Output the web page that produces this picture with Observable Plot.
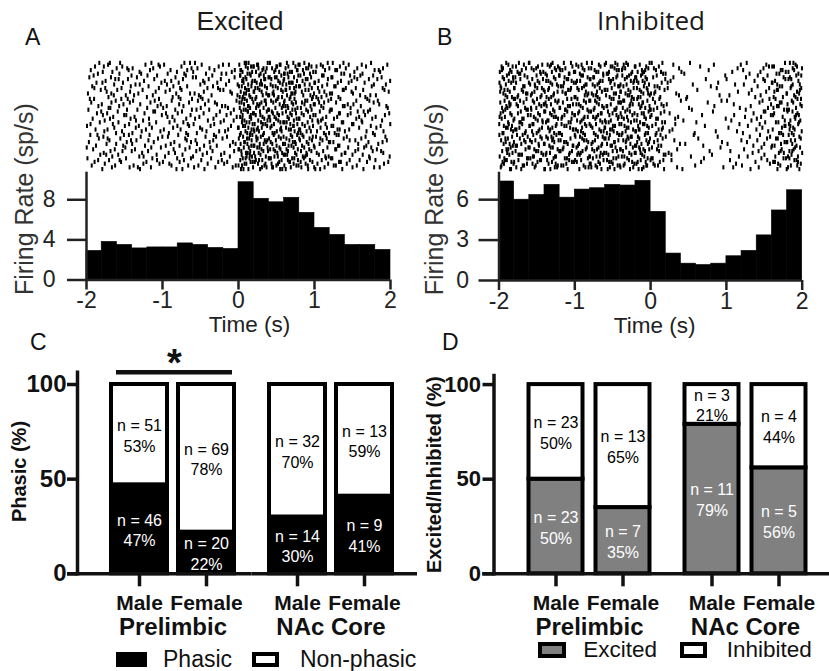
<!DOCTYPE html>
<html><head><meta charset="utf-8">
<script src="https://cdn.jsdelivr.net/npm/d3@7"></script>
<script src="https://cdn.jsdelivr.net/npm/@observablehq/plot@0.6"></script>
<style>
body{margin:0;background:#fff;}
#fig{position:relative;width:829px;height:671px;background:#fff;font-family:"Liberation Sans",Arial,sans-serif;overflow:hidden}
.abs{position:absolute}
.lbl{position:absolute;line-height:1;white-space:nowrap;color:#111}
.box{position:absolute;box-sizing:border-box}
</style></head><body><div id="fig"></div>
<script>
// ---------- data ----------
const binStart = [-2.0,-1.8,-1.6,-1.4,-1.2,-1.0,-0.8,-0.6,-0.4,-0.2,0.0,0.2,0.4,0.6,0.8,1.0,1.2,1.4,1.6,1.8];
const BIN = 0.2;
const rateExcited   = [2.9,3.8,3.5,3.15,3.25,3.25,3.65,3.5,3.2,3.1,9.75,8.1,7.75,8.2,6.7,5.2,4.5,3.5,3.5,3.0];
const rateInhibited = [7.35,6.0,6.35,7.1,6.15,6.75,6.85,7.1,7.05,7.4,5.1,2.0,1.25,1.15,1.25,1.8,2.2,3.35,5.2,6.7];
const TRIALS = 60;

const regions = ["Prelimbic","Prelimbic","NAc Core","NAc Core"];
const sexes   = ["Male","Female","Male","Female"];
const phasicN   = [46,20,14,9];
const phasicPct = [47,22,30,41];
const nonN      = [51,69,32,13];
const nonPct    = [53,78,70,59];
const excitedN   = [23,7,11,5];
const excitedPct = [50,35,79,56];
const inhibN     = [23,13,3,4];
const inhibPct   = [50,65,21,44];

// ---------- helpers ----------
const FONT = '"Liberation Sans", Arial, sans-serif';
const fig = document.getElementById("fig");
function place(el, left, top) {
  const d = document.createElement("div");
  d.className = "abs"; d.style.left = left + "px"; d.style.top = top + "px";
  d.appendChild(el); fig.appendChild(d);
}
function label(text, left, top, css) {
  const s = document.createElement("div");
  s.className = "lbl"; s.textContent = text;
  s.style.left = left + "px"; s.style.top = top + "px";
  Object.assign(s.style, css || {});
  fig.appendChild(s);
}
function box(left, top, w, h, css) {
  const b = document.createElement("div");
  b.className = "box";
  Object.assign(b.style, {left: left+"px", top: top+"px", width: w+"px", height: h+"px"}, css);
  fig.appendChild(b);
}

// Individual spikes cannot be read from the raster; each bin's spike count is
// taken from the read histogram rate (rate x bin width x trials) and spread
// evenly over the bin and the trials with a Halton (2,3) low-discrepancy sequence.
function halton(i, base) {
  let f = 1, r = 0;
  while (i > 0) { f /= base; r += f * (i % base); i = Math.floor(i / base); }
  return r;
}
function spikesFromRates(rates, offset) {
  const out = [];
  let s = offset;
  rates.forEach((rate, b) => {
    const count = Math.round(rate * BIN * TRIALS);
    for (let k = 0; k < count; k++) {
      s += 1;
      out.push({t: binStart[b] + halton(s, 2) * BIN, trial: Math.floor(halton(s, 3) * TRIALS)});
    }
  });
  return out;
}
const histRows = rates => binStart.map((t, i) => ({t0: t, t1: t + BIN, rate: rates[i]}));

function raster(spikes, ml, mr, w) {
  return Plot.plot({
    width: w, height: 120, marginTop: 7, marginBottom: 5, marginLeft: ml, marginRight: mr,
    x: {domain: [-2, 2], axis: null},
    y: {type: "band", domain: d3.range(TRIALS), padding: 0, axis: null},
    style: {background: "transparent"},
    marks: [Plot.tickX(spikes, {x: "t", y: "trial", stroke: "black", strokeWidth: 2, insetTop: -1.2, insetBottom: -1.2})]
  });
}

function hist(rows, o) {
  return Plot.plot({
    width: o.w, height: 180, marginTop: 11.7, marginBottom: o.mb, marginLeft: o.ml, marginRight: o.mr,
    x: {domain: [-2, 2]}, y: {domain: [0, o.ymax]},
    style: {fontFamily: FONT, fontSize: "23px", color: "#222", background: "transparent", overflow: "visible"},
    marks: [
      Plot.rectY(rows, {x1: "t0", x2: "t1", y: "rate", fill: "black", stroke: "black", strokeWidth: 0.6}),
      Plot.ruleX([-2], {y1: 0, y2: o.ymax, strokeWidth: 2.5}),
      Plot.ruleY([0], {x1: -2, x2: 2, strokeWidth: 2.5}),
      Plot.axisY({ticks: o.ticks, tickSize: o.tickSize, tickPadding: o.tickPadding, tickFormat: d => String(d), strokeWidth: 2.5, fontSize: 23, label: null}),
      Plot.axisX({ticks: [-2, -1, 0, 1, 2], tickSize: 10, tickPadding: 2, tickFormat: d => String(d), strokeWidth: 2.5, fontSize: 23, label: null}),
      Plot.text(["Time (s)"], {text: d => d, frameAnchor: "bottom", textAnchor: "middle", lineAnchor: "middle", dx: o.xlabDx, dy: 45, fontSize: 22.5}),
      Plot.text(["Firing Rate (sp/s)"], {text: d => d, frameAnchor: "left", textAnchor: "middle", lineAnchor: "middle", rotate: -90, dx: o.ylabDx, dy: -27, fontSize: 25, fill: "#333"})
    ]
  });
}

// ---------- panels A and B ----------
place(raster(spikesFromRates(rateExcited, 0), 86, 20, 410), 0, 55);
place(hist(histRows(rateExcited), {w: 410, ml: 86, mr: 20, mb: 60.5, ymax: 10.75, ticks: [0, 4, 8], tickSize: 19, tickPadding: 12, xlabDx: 11, ylabDx: -62}), 0, 160);
place(raster(spikesFromRates(rateInhibited, 5000), 88.5, 27.3, 419), 410, 55);
place(hist(histRows(rateInhibited), {w: 419, ml: 88.5, mr: 27.3, mb: 60, ymax: 8.04, ticks: [0, 3, 6], tickSize: 20, tickPadding: 10, xlabDx: 4, ylabDx: -64.5}), 410, 160);

// ---------- panels C and D ----------
function stackRows(n1, p1, k1, n2, p2, k2) {
  const rows = [];
  regions.forEach((r, i) => rows.push({region: r, sex: sexes[i], kind: k1, n: n1[i], pct: p1[i]}));
  regions.forEach((r, i) => rows.push({region: r, sex: sexes[i], kind: k2, n: n2[i], pct: p2[i]}));
  return rows;
}
const dataC = stackRows(phasicN, phasicPct, "Phasic", nonN, nonPct, "Non-phasic");
const dataD = stackRows(excitedN, excitedPct, "Excited", inhibN, inhibPct, "Inhibited");
const sigC = [{region: "Prelimbic", from: "Male", to: "Female", mark: "*"}];

function bars(data, o) {
  const marks = [
    Plot.barY(data, {fx: "region", x: "sex", y: "pct", fill: "kind", stroke: "black", strokeWidth: 4}),
    Plot.text(data, Plot.stackY({fx: "region", x: "sex", y: "pct", z: "kind",
      text: d => `n = ${d.n}\n${d.pct}%`,
      fill: d => d.kind === o.kinds[0] ? "white" : "black", fontSize: 16, lineHeight: 1.3})),
    Plot.frame({anchor: "left", facetAnchor: "left", dx: o.axDx, strokeWidth: 3.5}),
    Plot.ruleY([0], {facetAnchor: "left", insetLeft: o.baseL, insetRight: o.baseM, strokeWidth: 3.5}),
    Plot.ruleY([0], {facetAnchor: "right", insetLeft: o.baseM, insetRight: o.baseR, strokeWidth: 3.5}),
    Plot.axisY({ticks: [0, 50, 100], tickSize: o.ytick, tickPadding: o.ypad, dx: o.axDx, fontWeight: "bold", fontSize: o.yfont, strokeWidth: 3.5, label: null}),
    Plot.axisX({tickSize: 13, tickPadding: 8, fontWeight: "bold", fontSize: 21, strokeWidth: 3.5, label: null}),
    Plot.axisFx({anchor: "bottom", tickSize: 0, tickPadding: 44, fontWeight: "bold", fontSize: 24, label: null}),
    Plot.text([o.ylabel], {text: d => d, frameAnchor: "left", facetAnchor: "left", textAnchor: "middle", lineAnchor: "middle", rotate: -90, dx: o.ylabDx, dy: o.ylabDy, fontSize: 20, fontWeight: "bold"})
  ];
  if (o.sig) {
    marks.push(Plot.ruleY(o.sig, {fx: "region", x1: "from", x2: "to", y: 106.5, insetLeft: 5, insetRight: 2, strokeWidth: 4.5}));
    marks.push(Plot.text(o.sig, {fx: "region", text: "mark", frameAnchor: "top", textAnchor: "middle", lineAnchor: "middle", dx: 1.5, dy: -8, fontSize: 38, fontWeight: "bold"}));
  }
  return Plot.plot({
    width: o.w, height: 331, marginLeft: o.ml, marginRight: o.mr, marginTop: o.mt, marginBottom: 97.7,
    fx: {domain: ["Prelimbic", "NAc Core"], paddingInner: o.fxPad, paddingOuter: 0},
    x: {domain: ["Male", "Female"], paddingInner: o.xPad, paddingOuter: o.xPad / 2},
    y: {domain: [0, o.ymax]},
    color: {domain: o.kinds, range: o.colors},
    style: {fontFamily: FONT, fontSize: "16px", color: "#111", background: "transparent", overflow: "visible"},
    marks
  });
}

place(bars(dataC, {w: 425, ml: 105, mr: 27, mt: 31.7, ymax: 106.5, fxPad: 0.1456, xPad: 0.17,
  kinds: ["Phasic", "Non-phasic"], colors: ["black", "white"], axDx: -28, ytick: 10, ypad: 1, yfont: 24,
  baseL: -38, baseM: -11.5, baseR: -19, ylabel: "Phasic (%)", ylabDx: -86, ylabDy: -1.5, sig: sigC}), 0, 340);
place(bars(dataD, {w: 419, ml: 111.5, mr: 17.25, mt: 35, ymax: 104.8, fxPad: 0.1424, xPad: 0.194,
  kinds: ["Excited", "Inhibited"], colors: ["#808080", "white"], axDx: -28.5, ytick: 11, ypad: 2, yfont: 22,
  baseL: -39.8, baseM: -11.1, baseR: -17.25, ylabel: "Excited/Inhibited (%)", ylabDx: -87.5, ylabDy: 0}), 410, 340);

// ---------- titles, panel letters, legends ----------
label("A", 25, 25.5, {fontSize: "23px"});
label("B", 437, 25.5, {fontSize: "23px"});
label("C", 30, 330.5, {fontSize: "23px"});
label("D", 442, 330.5, {fontSize: "23px"});
label("Excited", 240, 8.3, {fontSize: "26.5px", transform: "translateX(-50%)", color: "#1a1a1a"});
label("Inhibited", 651, 6.9, {fontSize: "26px", fontFamily: '"Open Sans", sans-serif', transform: "translateX(-50%)", color: "#1a1a1a"});

box(116, 652, 31, 15, {background: "black"});
label("Phasic", 163, 647.5, {fontSize: "23px"});
box(252, 652, 27, 15, {background: "white", border: "4px solid black"});
label("Non-phasic", 300, 647.5, {fontSize: "23px"});

box(538, 642, 28, 16, {background: "#808080", border: "4px solid black"});
label("Excited", 583.3, 639.3, {fontSize: "22.5px"});
box(680, 642, 27, 16, {background: "white", border: "4px solid black"});
label("Inhibited", 726.7, 639.3, {fontSize: "22.5px"});
</script></body></html>
